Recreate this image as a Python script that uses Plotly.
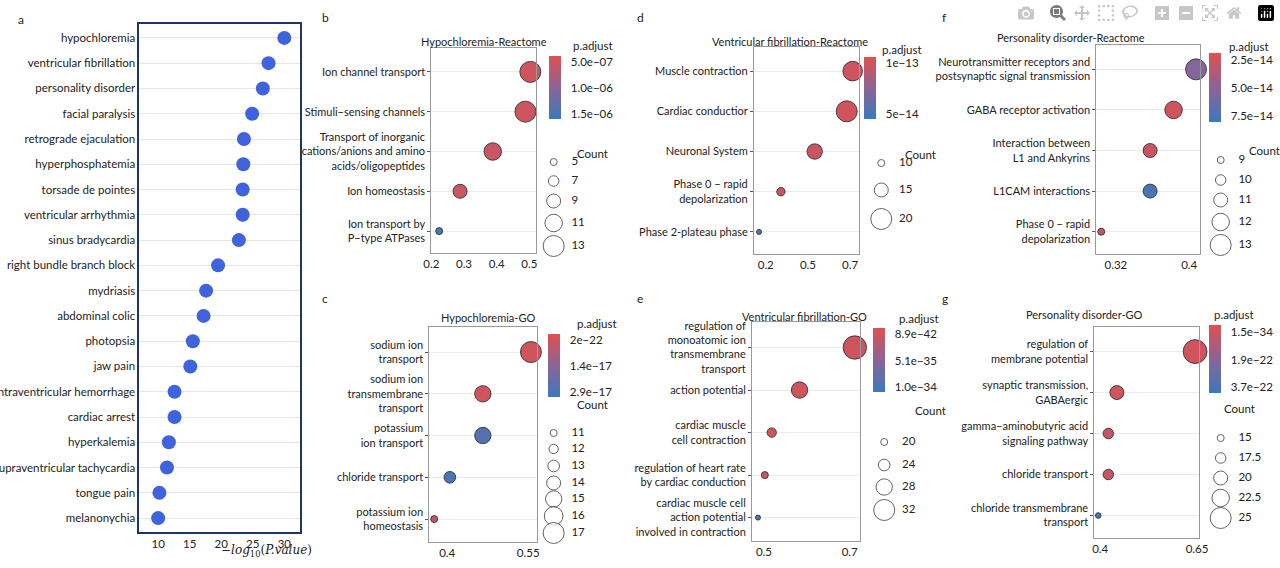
import plotly.graph_objects as go

W, H = 1280, 568
FONT = "Lato"

# ---------------- data ----------------
a_terms = ["hypochloremia", "ventricular fibrillation", "personality disorder", "facial paralysis",
           "retrograde ejaculation", "hyperphosphatemia", "torsade de pointes", "ventricular arrhythmia",
           "sinus bradycardia", "right bundle branch block", "mydriasis", "abdominal colic", "photopsia",
           "jaw pain", "intraventricular hemorrhage", "cardiac arrest", "hyperkalemia",
           "supraventricular tachycardia", "tongue pain", "melanonychia"]
a_vals = [30.0, 27.5, 26.6, 24.9, 23.6, 23.5, 23.4, 23.4, 22.8, 19.5, 17.6, 17.2, 15.5, 15.1,
          12.6, 12.6, 11.7, 11.4, 10.2, 10.0]

b_terms = ["Ion channel transport", "Stimuli\u2212sensing channels",
           "Transport of inorganic<br>cations/anions and amino<br>acids/oligopeptides",
           "Ion homeostasis", "Ion transport by<br>P\u2212type ATPases"]
b_ratio = [0.503, 0.488, 0.388, 0.288, 0.224]
b_count = [13, 13, 11, 9, 5]
b_padj = [5.0e-7, 5.2e-7, 5.5e-7, 5.5e-7, 1.5e-6]

c_terms = ["sodium ion<br>transport", "sodium ion<br>transmembrane<br>transport",
           "potassium<br>ion transport", "chloride transport", "potassium ion<br>homeostasis"]
c_ratio = [0.555, 0.466, 0.466, 0.405, 0.376]
c_count = [17, 15, 15, 13, 11]
c_padj = [2e-22, 2e-21, 2.6e-17, 2.9e-17, 4e-18]

d_terms = ["Muscle contraction", "Cardiac conductior", "Neuronal System",
           "Phase 0 \u2212 rapid<br>depolarization", "Phase 2-plateau phase"]
d_ratio = [0.765, 0.73, 0.54, 0.34, 0.21]
d_count = [19, 20, 16, 11, 5]
d_padj = [1e-13, 1e-13, 9.8e-14, 9.8e-14, 5e-14]

e_terms = ["regulation of<br>monoatomic ion<br>transmembrane<br>transport", "action potential",
           "cardiac muscle<br>cell contraction", "regulation of heart rate<br>by cardiac conduction",
           "cardiac muscle cell<br>action potential<br>involved in contraction"]
e_ratio = [0.712, 0.583, 0.518, 0.502, 0.486]
e_count = [34, 28, 22, 20, 16]
e_padj = [8.9e-42, 1e-40, 1e-39, 2e-38, 1.0e-34]

f_terms = ["Neurotransmitter receptors and<br>postsynaptic signal transmission",
           "GABA receptor activation", "Interaction between<br>L1 and Ankyrins",
           "L1CAM interactions", "Phase 0 \u2212 rapid<br>depolarization"]
f_ratio = [0.407, 0.384, 0.360, 0.360, 0.310]
f_count = [13, 12, 11, 11, 9]
f_padj = [5.3e-14, 2.5e-14, 2.7e-14, 7.5e-14, 2.8e-14]

g_terms = ["regulation of<br>membrane potential", "synaptic transmission,<br>GABAergic",
           "gamma\u2212aminobutyric acid<br>signaling pathway", "chloride transport",
           "chloride transmembrane<br>transport"]
g_ratio = [0.645, 0.443, 0.421, 0.421, 0.395]
g_count = [27, 20, 17.5, 17.5, 14]
g_padj = [1.5e-34, 5e-24, 3e-23, 3e-23, 3.7e-22]

# ---------------- layout spec (pixels) ----------------
panels = [
    dict(key="b", title="Hypochloremia-Reactome", terms=b_terms, ratio=b_ratio, count=b_count, padj=b_padj,
         box=(429, 535, 48, 253), xr=(0.2, 0.52), xt=[0.2, 0.3, 0.4, 0.5], xtt=["0.2", "0.3", "0.4", "0.5"],
         tpos=(482, 33), cb=(548, 56, 119), cblab=["5.0e\u221207", "1.0e\u221206", "1.5e\u221206"],
         cbval=[5e-7, 1e-6, 1.5e-6], cbt=(571, 37),
         leg=dict(counts=[5, 7, 9, 11, 13], x=553, ys=[162, 181, 201, 223, 246], title=(575, 145)),
         letter=(316, 8)),
    dict(key="c", title="Hypochloremia-GO", terms=c_terms, ratio=c_ratio, count=c_count, padj=c_padj,
         box=(427, 536, 327, 542), xr=(0.367, 0.566), xt=[0.4, 0.55], xtt=["0.4", "0.55"],
         tpos=(486, 317), cb=(547, 334, 397), cblab=["2e\u221222", "1.4e\u221217", "2.9e\u221217"],
         cbval=[2e-22, 1.45e-17, 2.9e-17], cbt=(575, 323),
         leg=dict(counts=[11, 12, 13, 14, 15, 16, 17], x=553, ys=[433, 449, 466, 483, 499, 516, 533],
                  title=(575, 413)),
         letter=(316, 298)),
    dict(key="d", title="Ventricular fibrillation-Reactome", terms=d_terms, ratio=d_ratio, count=d_count,
         padj=d_padj, box=(756, 862, 47, 254), xr=(0.18, 0.80), xt=[0.25, 0.5, 0.75],
         xtt=["0.2", "0.5", "0.7"], tpos=(793, 33), cb=(868, 57, 119), cblab=["1e\u221213", "5e\u221214"],
         cbval=[1e-13, 5e-14], cbt=(884, 41),
         leg=dict(counts=[10, 15, 20], x=885, ys=[163, 190, 219], title=(907, 146)),
         letter=(635, 8)),
    dict(key="e", title="Ventricular fibrillation-GO", terms=e_terms, ratio=e_ratio, count=e_count,
         padj=e_padj, box=(754, 863, 322, 541), xr=(0.472, 0.723), xt=[0.5, 0.7], xtt=["0.5", "0.7"],
         tpos=(807, 316), cb=(877, 328, 392), cblab=["8.9e\u221242", "5.1e\u221235", "1.0e\u221234"],
         cbval=[8.9e-42, 5.1e-35, 1.0e-34], cbt=(901, 318),
         leg=dict(counts=[20, 24, 28, 32], x=888, ys=[442, 465, 487, 510], title=(917, 419)),
         letter=(635, 298)),
    dict(key="f", title="Personality disorder-Reactome", terms=f_terms, ratio=f_ratio, count=f_count,
         padj=f_padj, box=(1103, 1208, 45, 254), xr=(0.305, 0.411), xt=[0.325, 0.4], xtt=["0.32", "0.4"],
         tpos=(1154, 29), cb=(1217, 53, 122), cblab=["2.5e\u221214", "5.0e\u221214", "7.5e\u221214"],
         cbval=[2.5e-14, 5.0e-14, 7.5e-14], cbt=(1235, 38),
         leg=dict(counts=[9, 10, 11, 12, 13], x=1229, ys=[160, 180, 200, 222, 245], title=(1256, 142)),
         letter=(945, 8)),
    dict(key="g", title="Personality disorder-GO", terms=g_terms, ratio=g_ratio, count=g_count,
         padj=g_padj, box=(1101, 1207, 327, 538), xr=(0.385, 0.655), xt=[0.4, 0.65], xtt=["0.4", "0.65"],
         tpos=(1152, 314), cb=(1217, 325, 393), cblab=["1.5e\u221234", "1.9e\u221222", "3.7e\u221222"],
         cbval=[1.5e-34, 1.9e-22, 3.7e-22], cbt=(1220, 314),
         leg=dict(counts=[15, 17.5, 20, 22.5, 25], x=1229, ys=[438, 458, 478, 498, 518], title=(1230, 417)),
         letter=(945, 298)),
]

RED, PURP, BLUE = "#E0504F", "#8C6496", "#3A79BD"
CSCALE = [[0, BLUE], [0.5, PURP], [1, RED]]
CMIN, CMAX = -0.1, 1.12
DMIN, DMAX = 7, 21


def px(x):
    return x / W


def py(y):
    return 1 - y / H


fig = go.Figure()
annotations = []
layout = dict(width=W, height=H, margin=dict(l=0, r=0, t=0, b=0), paper_bgcolor="white",
              plot_bgcolor="rgba(0,0,0,0)", showlegend=False, font=dict(family=FONT, size=11, color="#222"))

# ---------------- panel a ----------------
n = len(a_terms)
fig.add_trace(go.Scatter(x=a_vals, y=list(range(n)), mode="markers", xaxis="x", yaxis="y",
                         marker=dict(size=14, color="#3E63DD", line=dict(width=0)), cliponaxis=False))
layout["xaxis"] = dict(domain=[px(133), px(296)], range=[7, 32.5], tickvals=[10, 15, 20, 25, 30],
                       showgrid=False, zeroline=False, showline=True, mirror=True, linecolor="#1F3564",
                       linewidth=1.5, ticks="", tickfont=dict(size=11.5), anchor="y")
layout["yaxis"] = dict(domain=[py(532), py(24)], range=[n - 1 + 0.55, -0.55], tickvals=list(range(n)),
                       ticktext=a_terms, showgrid=True, gridcolor="#E6E6E6", zeroline=False, showline=True,
                       mirror=True, linecolor="#1F3564", linewidth=1.5, ticks="", tickfont=dict(size=11.5),
                       anchor="x", automargin=False)
annotations.append(dict(text="\u2212<i>log</i><sub>10</sub>(<i>P.value</i>)", x=px(214), y=py(561),
                        xref="paper", yref="paper", showarrow=False, font=dict(family="DejaVu Serif", size=12)))
annotations.append(dict(text="a", x=px(8), y=py(10), xref="paper", yref="paper", showarrow=False,
                        xanchor="left", font=dict(size=12)))

# overlay axis for size legends (pixel space)
layout["xaxis20"] = dict(domain=[0, 1], range=[0, W], visible=False, anchor="y20")
layout["yaxis20"] = dict(domain=[0, 1], range=[H, 0], visible=False, anchor="x20")

# ---------------- panels b-g ----------------
for i, p in enumerate(panels):
    k = i + 2
    xa, ya = f"x{k}", f"y{k}"
    top_v, bot_v = p["cbval"][0], p["cbval"][-1]
    tmap = lambda v: (v - bot_v) / (top_v - bot_v)
    lc = p["leg"]["counts"]
    smap = lambda c: DMIN + (c - min(lc)) / (max(lc) - min(lc)) * (DMAX - DMIN)
    nrow = len(p["terms"])
    l, r, t, b = p["box"]
    cb_x, cb_t, cb_b = p["cb"]
    fig.add_trace(go.Scatter(
        x=p["ratio"], y=list(range(nrow)), mode="markers", xaxis=xa, yaxis=ya, cliponaxis=False,
        marker=dict(size=[max(5, smap(c)) for c in p["count"]], color=[tmap(v) for v in p["padj"]],
                    coloraxis=f"coloraxis{k}", opacity=1, line=dict(width=0.9, color="#333"))))
    layout[f"coloraxis{k}"] = dict(
        cmin=CMIN, cmax=CMAX, colorscale=CSCALE,
        colorbar=dict(x=px(cb_x), xanchor="left", y=py(cb_t), yanchor="top", len=(cb_b - cb_t) / H,
                      lenmode="fraction", thickness=12, xpad=0, ypad=0, outlinewidth=0,
                      tickvals=[tmap(v) for v in p["cbval"]], ticktext=p["cblab"], ticks="outside",
                      ticklen=8, tickcolor="rgba(0,0,0,0)", tickfont=dict(size=11.5, family=FONT)))
    layout[f"xaxis{k}"] = dict(domain=[px(l), px(r)], range=list(p["xr"]), tickvals=p["xt"], ticktext=p["xtt"],
                               showgrid=False, zeroline=False, showline=True, mirror=True, linecolor="#999",
                               linewidth=1, ticks="", tickfont=dict(size=11.5), anchor=ya)
    layout[f"yaxis{k}"] = dict(domain=[py(b), py(t)], range=[nrow - 1 + 0.55, -0.6], tickvals=list(range(nrow)),
                               ticktext=p["terms"], showgrid=True, gridcolor="#EBEBEB", zeroline=False,
                               showline=True, mirror=True, linecolor="#999", linewidth=1, ticks="outside",
                               ticklen=3, tickcolor="#555", tickfont=dict(size=11), anchor=xa, automargin=False)
    # size legend
    leg = p["leg"]
    fig.add_trace(go.Scatter(x=[leg["x"]] * len(lc), y=leg["ys"], mode="markers", xaxis="x20",
                             yaxis="y20", marker=dict(size=[smap(c) for c in lc], color="white",
                                                      line=dict(width=1, color="#222")), cliponaxis=False))
    fig.add_trace(go.Scatter(x=[leg["x"] + 18] * len(lc), y=leg["ys"], mode="text", xaxis="x20",
                             yaxis="y20", text=[f"{c:g}" for c in lc], textposition="middle right",
                             textfont=dict(size=11.5), cliponaxis=False))
    annotations += [
        dict(text="Count", x=px(leg["title"][0]), y=py(leg["title"][1]), xref="paper", yref="paper",
             showarrow=False, xanchor="left", font=dict(size=11.5)),
        dict(text="p.adjust", x=px(p["cbt"][0]), y=py(p["cbt"][1]), xref="paper", yref="paper",
             showarrow=False, xanchor="left", font=dict(size=11.5)),
        dict(text=p["title"], x=px(p["tpos"][0]), y=py(p["tpos"][1]), xref="paper", yref="paper",
             showarrow=False, font=dict(size=11)),
        dict(text=p["key"], x=px(p["letter"][0]), y=py(p["letter"][1]), xref="paper", yref="paper",
             showarrow=False, xanchor="left", font=dict(size=12)),
    ]

layout["annotations"] = annotations
fig.update_layout(**layout)
fig.write_html("out.html", post_script="document.body.style.margin='0';document.body.style.overflow='hidden';")
